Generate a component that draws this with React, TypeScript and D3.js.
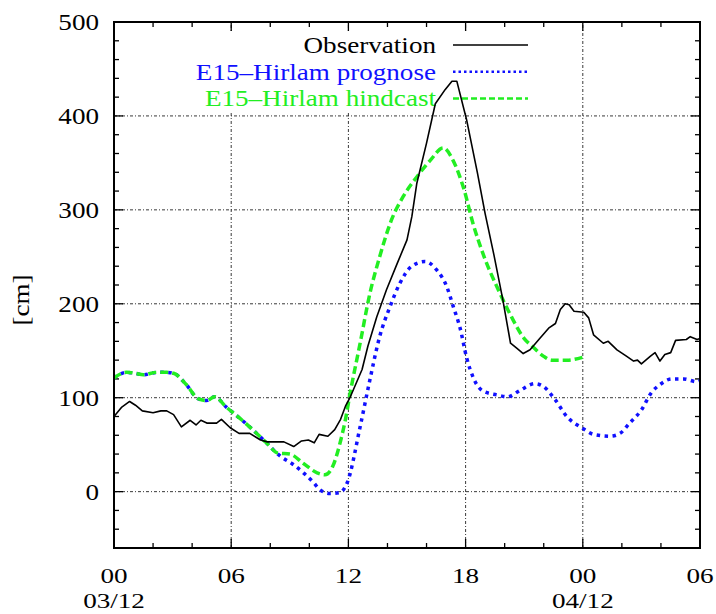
import React, { useEffect, useRef } from 'react';
import * as d3 from 'd3';

// hours since 03/12 00:00, water level in cm
const obsHours = [0, 0.4, 0.8, 1.1, 1.45, 2.0, 2.4, 2.7, 3.05, 3.45, 3.9, 4.2, 4.45, 4.75, 5.25, 5.5, 5.95, 6.4, 6.95, 7.5, 7.85, 8.7, 9.2, 9.6, 9.95, 10.25, 10.5, 10.95, 11.3, 11.6, 11.85, 12.1, 12.7, 13.0, 13.45, 13.95, 14.5, 15.0, 15.25, 15.5, 16.0, 16.45, 16.95, 17.3, 17.55, 18.05, 18.6, 19.0, 19.45, 19.9, 20.3, 20.6, 20.95, 21.3, 21.75, 22.25, 22.6, 22.85, 23.1, 23.3, 23.55, 24.05, 24.3, 24.55, 25.05, 25.3, 25.75, 26.25, 26.6, 26.8, 27.0, 27.45, 27.7, 27.95, 28.2, 28.5, 28.75, 29.3, 29.5, 29.85, 30];
const obsValues = [80, 90, 96, 92, 86, 84, 86, 86, 82, 69, 76, 71, 76, 73, 73, 77, 68, 62, 62, 55, 53, 53, 48, 54, 55, 52, 61, 59, 66, 77, 91, 101, 130, 155, 186, 215, 243, 268, 293, 328, 371, 413, 428, 437, 437, 396, 340, 296, 252, 205, 158, 153, 147, 151, 162, 174, 179, 194, 200, 199, 192, 191, 185, 167, 158, 160, 151, 144, 139, 140, 136, 144, 148, 139, 146, 148, 161, 162, 165, 162, 163];

const progHours = [0, 0.3, 0.65, 1.1, 1.5, 2.2, 2.7, 3.05, 3.7, 4.3, 4.75, 5.15, 5.75, 6.45, 7.1, 7.8, 8.5, 9.1, 9.7, 10.2, 10.55, 11.05, 11.55, 11.95, 12.6, 13.1, 13.6, 14.13, 14.64, 15.24, 15.92, 16.52, 17.04, 17.37, 17.72, 18.06, 18.4, 18.9, 19.6, 20.15, 20.8, 21.55, 21.98, 22.58, 23.18, 23.95, 24.55, 25.4, 25.9, 26.4, 27.0, 27.5, 27.95, 28.55, 29.15, 29.85, 30];
const progValues = [121, 125, 127, 126, 124.5, 127, 127, 126, 114, 99, 97, 101, 90, 78, 66, 52, 38, 30, 20, 10, 2, -2, -1, 10, 69, 119, 165, 197, 222, 240, 245, 236, 218, 197, 174, 142, 121, 107, 103, 101, 108, 115, 112, 98, 80, 68, 61, 59, 62, 73, 87, 105, 114, 120, 120, 117, 118];

const hindHours = [0, 0.3, 0.65, 1.1, 1.5, 2.2, 2.7, 3.05, 3.7, 4.3, 4.75, 5.15, 5.75, 6.45, 7.1, 7.8, 8.4, 9.0, 9.7, 10.4, 10.8, 11.2, 11.55, 11.85, 12.1, 12.6, 13.1, 13.6, 14.2, 14.8, 15.5, 16.2, 16.85, 17.35, 17.9, 18.4, 18.95, 19.65, 20.35, 21.0, 21.4, 22.0, 22.4, 23.2, 24];
const hindValues = [121, 125, 127, 126, 124.5, 127, 127, 126, 114, 99, 97, 101, 90, 78, 66, 52, 41, 40, 30, 20, 18, 27, 50, 77, 106, 158, 211, 250, 289, 314, 335, 353, 366, 353, 323, 284, 250, 216, 186, 163, 155, 144, 140, 140, 143];

const xTicks = [0, 6, 12, 18, 24, 30];
const xTickLabels = ['00', '06', '12', '18', '00', '06'];
const dateLabels = [{ h: 0, label: '03/12' }, { h: 24, label: '04/12' }];
const yTicks = [0, 100, 200, 300, 400, 500];

const seriesNames = ['Observation', 'E15\u2013Hirlam prognose', 'E15\u2013Hirlam hindcast'];

const FONT = '"Liberation Serif", "Times New Roman", serif';

const App = () => {
  const ref = useRef<SVGSVGElement>(null);

  useEffect(() => {
    const svg = d3.select(ref.current);
    svg.selectAll('*').remove();

    const width = 716;
    const height = 614;
    const marginLeft = 114;
    const marginRight = 16;
    const marginTop = 22;
    const marginBottom = 66;

    const x = d3.scaleLinear().domain([0, 30]).range([marginLeft, width - marginRight]);
    const y = d3.scaleLinear().domain([-60, 500]).range([height - marginBottom, marginTop]);

    const x0 = x(0), x1 = x(30), y0 = y(-60), y1 = y(500);

    // stretched serif text like the original
    const label = (tx, ty, txt, anchor, color = '#000', rot = 0, size = 24) => {
      const sx = (1.13 * 24) / size;
      const g = svg.append('g').attr('transform', `translate(${tx},${ty}) rotate(${rot}) scale(${sx},1)`);
      g.append('text')
        .attr('text-anchor', anchor)
        .style('font-family', FONT)
        .style('font-size', `${size}px`)
        .attr('fill', color)
        .text(txt);
    };

    // grid
    const grid = svg.append('g')
      .attr('stroke', '#222')
      .attr('stroke-width', 0.9)
      .attr('stroke-dasharray', '3,2,1,2');
    xTicks.filter(h => h > 0 && h < 30).forEach(h => {
      grid.append('line').attr('x1', x(h)).attr('x2', x(h)).attr('y1', y0).attr('y2', y1);
    });
    yTicks.filter(v => v < 500).forEach(v => {
      grid.append('line').attr('x1', x0).attr('x2', x1).attr('y1', y(v)).attr('y2', y(v));
    });

    // key background (gnuplot blanks the grid behind the key)
    svg.append('rect')
      .attr('x', 190).attr('y', 33)
      .attr('width', 345).attr('height', 79)
      .attr('fill', '#fff');

    // ticks, inward on all sides
    const ticks = svg.append('g').attr('stroke', '#000').attr('stroke-width', 1.3);
    d3.range(0, 31, 2).forEach(h => {
      const len = h % 6 === 0 ? 9 : 5;
      ticks.append('line').attr('x1', x(h)).attr('x2', x(h)).attr('y1', y0).attr('y2', y0 - len);
      ticks.append('line').attr('x1', x(h)).attr('x2', x(h)).attr('y1', y1).attr('y2', y1 + len);
    });
    d3.range(-60, 501, 20).forEach(v => {
      const len = v % 100 === 0 ? 9 : 5;
      ticks.append('line').attr('x1', x0).attr('x2', x0 + len).attr('y1', y(v)).attr('y2', y(v));
      ticks.append('line').attr('x1', x1).attr('x2', x1 - len).attr('y1', y(v)).attr('y2', y(v));
    });

    // legend
    const keyRows = [
      { color: '#000', width: 1.5, dash: null },
      { color: '#1010ff', width: 2.5, dash: '2.5,3' },
      { color: '#22ee22', width: 2.5, dash: '6,3' },
    ];
    keyRows.forEach((k, i) => {
      const ry = 45 + i * 26.7;
      label(436, ry + 8, seriesNames[i], 'end', i === 0 ? '#000' : k.color);
      svg.append('line')
        .attr('x1', 453).attr('x2', 528).attr('y1', ry).attr('y2', ry)
        .attr('stroke', k.color)
        .attr('stroke-width', k.width)
        .attr('stroke-dasharray', k.dash);
    });

    // data
    const pts = (hs, vs) => hs.map((h, i) => [h, vs[i]]);
    const smooth = d3.line().x(d => x(d[0])).y(d => y(d[1])).curve(d3.curveMonotoneX);
    const plain = d3.line().x(d => x(d[0])).y(d => y(d[1]));

    svg.append('path')
      .attr('d', smooth(pts(progHours, progValues)))
      .attr('fill', 'none')
      .attr('stroke', '#1010ff')
      .attr('stroke-width', 3.5)
      .attr('stroke-dasharray', '3.5,4.5');

    svg.append('path')
      .attr('d', smooth(pts(hindHours, hindValues)))
      .attr('fill', 'none')
      .attr('stroke', '#22ee22')
      .attr('stroke-width', 3.5)
      .attr('stroke-dasharray', '8,4');

    svg.append('path')
      .attr('d', plain(pts(obsHours, obsValues)))
      .attr('fill', 'none')
      .attr('stroke', '#000')
      .attr('stroke-width', 1.6)
      .attr('stroke-linejoin', 'round');

    // frame
    svg.append('rect')
      .attr('x', x0).attr('y', y1)
      .attr('width', x1 - x0).attr('height', y0 - y1)
      .attr('fill', 'none')
      .attr('stroke', '#000')
      .attr('stroke-width', 2);

    // tick labels
    yTicks.forEach(v => label(99, y(v) + 8, String(v), 'end'));
    xTicks.forEach((h, i) => label(x(h), 583, xTickLabels[i], 'middle', '#000', 0, 22));
    dateLabels.forEach(d => label(x(d.h), 608, d.label, 'middle', '#000', 0, 22));

    // y axis title
    label(29, 300, '[cm]', 'middle', '#000', -90);
  }, []);

  return (
    <svg
      ref={ref}
      width={716}
      height={614}
      style={{ position: 'absolute', left: 0, top: 0, background: '#fff' }}
    ></svg>
  );
};

export default App;
